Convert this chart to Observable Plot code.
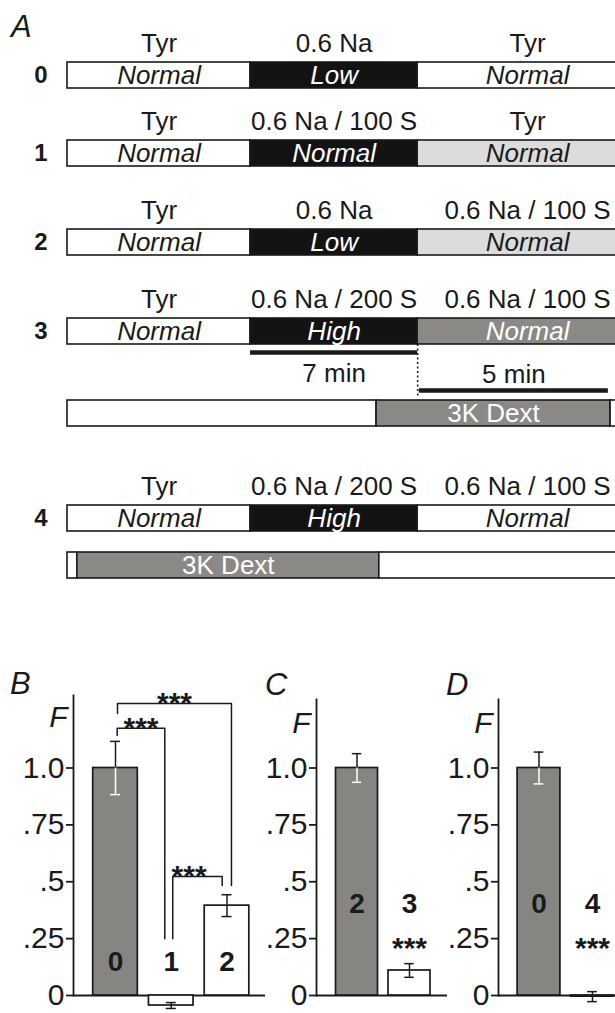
<!DOCTYPE html>
<html><head><meta charset="utf-8">
<script src="https://cdn.jsdelivr.net/npm/d3@7"></script>
<script src="https://cdn.jsdelivr.net/npm/@observablehq/plot@0.6"></script>
<style>
html,body{margin:0;padding:0;background:#fff;overflow:hidden;}
#fig{position:relative;width:615px;height:1013px;overflow:hidden;font-family:"Liberation Sans",Arial,sans-serif;color:#1a1a1a;}
.slot{position:absolute;left:0;}
.letter{position:absolute;font-style:italic;font-size:31px;line-height:1;}
</style></head><body><div id="fig"></div>
<script>
// ---------- Panel A data (schematic, x in % of protocol bar) ----------
const rowIds = ["0", "1", "2", "3", "4"];
const phaseEdges = [0, 33.4, 63.9, 104];
const solutions = [
  ["Tyr", "0.6 Na", "Tyr"],
  ["Tyr", "0.6 Na / 100 S", "Tyr"],
  ["Tyr", "0.6 Na", "0.6 Na / 100 S"],
  ["Tyr", "0.6 Na / 200 S", "0.6 Na / 100 S"],
  ["Tyr", "0.6 Na / 200 S", "0.6 Na / 100 S"]
];
const tonicity = [
  ["Normal", "Low", "Normal"],
  ["Normal", "Normal", "Normal"],
  ["Normal", "Low", "Normal"],
  ["Normal", "High", "Normal"],
  ["Normal", "High", "Normal"]
];
const phaseKinds = [
  ["base", "test", "base"],
  ["base", "test", "recovery"],
  ["base", "test", "recovery"],
  ["base", "test", "dextran"],
  ["base", "test", "base"]
];
const dextranRows = ["3", "4"];
const dextranStart = [56.4, 1.8];
const dextranEnd = [99.1, 56.9];
const dextranLabel = "3K Dext";
const scaleLabels = ["7 min", "5 min"];
const scaleStart = [33.4, 64.2];
const scaleEnd = [63.9, 98.7];

// ---------- Panels B-D data ----------
const yTicks = [0, 0.25, 0.5, 0.75, 1];
const yTickLabels = ["0", ".25", ".5", ".75", "1.0"];
const bCats = ["0", "1", "2"];
const bValues = [1.0, -0.044, 0.395];
const bErrors = [0.117, 0.013, 0.048];
const bReference = "0";
const bComparisons = [["0", "2"], ["0", "1"], ["1", "2"]];
const cCats = ["2", "3"];
const cValues = [1.0, 0.11];
const cErrors = [0.063, 0.03];
const cReference = "2";
const cStarred = ["3"];
const dCats = ["0", "4"];
const dValues = [1.0, -0.005];
const dErrors = [0.07, 0.022];
const dReference = "0";
const dStarred = ["4"];
const significance = "***";

// ---------- styles ----------
const INK = "#1a1a1a";
const fillOf = {base: "#ffffff", test: "#131313", recovery: "#dcdcdc", dextran: "#8b8986"};
const textOf = {base: INK, test: "#ffffff", recovery: INK, dextran: "#ffffff"};
const REF_GRAY = "#878582";
const FONT = "Liberation Sans, Arial, sans-serif";
const baseStyle = {background: "transparent", overflow: "visible", fontFamily: FONT, color: INK, fontSize: "26px"};

const fig = document.getElementById("fig");
function place(node, top) {
  const d = document.createElement("div");
  d.className = "slot"; d.style.top = top + "px";
  d.appendChild(node); fig.appendChild(d);
}
function letter(t, left, top) {
  const d = document.createElement("div");
  d.className = "letter"; d.textContent = t;
  d.style.left = left + "px"; d.style.top = top + "px";
  fig.appendChild(d);
}

// ---------- Panel A ----------
function trackPlot(segs, {labelled, rowLabel, innerItalic}) {
  const marginTop = labelled ? 34 : 2;
  const mid = d => (d.x1 + d.x2) / 2;
  const marks = [
    Plot.barX(segs, {x1: "x1", x2: "x2", y: () => "bar", fill: d => fillOf[d.kind], stroke: INK, strokeWidth: 1.6}),
    Plot.text(segs.filter(d => d.inner), {x: mid, y: () => "bar", text: "inner", fill: d => textOf[d.kind],
      fontSize: 26, fontStyle: innerItalic ? "italic" : "normal"})
  ];
  if (labelled) {
    marks.push(Plot.text(segs, {x: mid, y: () => "bar", text: "solution", dy: -32, fontSize: 26, fill: INK}));
  }
  if (rowLabel != null) {
    marks.push(Plot.text([rowLabel], {frameAnchor: "left", dx: -20, textAnchor: "end", fontWeight: "bold", fontSize: 24, fill: INK}));
  }
  return Plot.plot({
    width: 615, height: marginTop + 28,
    marginLeft: 67, marginRight: 0, marginTop, marginBottom: 2,
    x: {domain: [0, 100], axis: null},
    y: {domain: ["bar"], axis: null, padding: 0},
    color: {type: "identity"},
    style: baseStyle,
    marks
  });
}

const rowTops = [28, 106, 195, 284, 471];
rowIds.forEach((id, r) => {
  const segs = [0, 1, 2].map(p => ({
    x1: phaseEdges[p], x2: phaseEdges[p + 1], kind: phaseKinds[r][p],
    solution: solutions[r][p], inner: tonicity[r][p]
  }));
  place(trackPlot(segs, {labelled: true, rowLabel: id, innerItalic: true}), rowTops[r]);
});

const dextTops = {"3": 398, "4": 550};
dextranRows.forEach((id, k) => {
  const segs = [
    {x1: phaseEdges[0], x2: dextranStart[k], kind: "base", inner: null},
    {x1: dextranStart[k], x2: dextranEnd[k], kind: "dextran", inner: dextranLabel},
    {x1: dextranEnd[k], x2: phaseEdges[3], kind: "base", inner: null}
  ];
  place(trackPlot(segs, {labelled: false, rowLabel: null, innerItalic: false}), dextTops[id]);
});

// time scale bars for protocol 3
{
  const bars = scaleLabels.map((label, i) => ({label, start: scaleStart[i], end: scaleEnd[i]}));
  const labelDy = [21, -16];
  const plot = Plot.plot({
    width: 615, height: 54, marginLeft: 67, marginRight: 0, marginTop: 0, marginBottom: 0,
    x: {domain: [0, 100], axis: null},
    y: {domain: scaleLabels, axis: null, padding: 0.2},
    style: baseStyle,
    marks: [
      Plot.ruleX([phaseEdges[2]], {stroke: INK, strokeWidth: 1.5, strokeDasharray: "2,2.5"}),
      Plot.ruleY(bars, {y: "label", x1: "start", x2: "end", stroke: INK, strokeWidth: 4.5}),
      ...bars.map((b, i) => Plot.text([b], {x: d => (d.start + d.end) / 2, y: "label", text: "label", dy: labelDy[i], fontSize: 26, fill: INK}))
    ]
  });
  place(plot, 344);
}

// ---------- Panels B-D ----------
function barPanel({cats, values, errors, reference, starred, comparisons, layout}) {
  const rows = cats.map((cat, i) => ({cat, i, value: values[i], err: errors[i], ref: cat === reference}));
  const marks = [
    Plot.frame({anchor: "left", stroke: INK, strokeWidth: 1.8}),
    Plot.ruleY([0], {stroke: INK, strokeWidth: 1.8}),
    Plot.axisY(yTicks, {tickFormat: d => yTickLabels[yTicks.indexOf(d)], tickSize: 7, tickPadding: 2,
      fontSize: 30, strokeWidth: 1.8, label: null, fill: INK, stroke: INK}),
    Plot.rectY(rows, {x1: d => d.i - 0.4, x2: d => d.i + 0.4, y1: () => 0, y2: "value",
      fill: d => d.ref ? REF_GRAY : "#ffffff", stroke: INK, strokeWidth: 1.7}),
    // error bars: upper half black, lower half white inside grey bars
    Plot.ruleX(rows, {x: "i", y1: "value", y2: d => d.value + d.err, stroke: INK, strokeWidth: 1.5}),
    Plot.ruleX(rows, {x: "i", y1: d => d.value - d.err, y2: "value", stroke: d => d.ref ? "#ffffff" : INK, strokeWidth: 1.5}),
    Plot.ruleY(rows, {y: d => d.value + d.err, x1: d => d.i - 0.09, x2: d => d.i + 0.09, stroke: INK, strokeWidth: 1.5}),
    Plot.ruleY(rows, {y: d => d.value - d.err, x1: d => d.i - 0.09, x2: d => d.i + 0.09, stroke: d => d.ref ? "#ffffff" : INK, strokeWidth: 1.5}),
    Plot.text(rows, {x: "i", y: () => layout.numberY, text: "cat", fontWeight: "bold", fontSize: 28, fill: INK}),
    Plot.text(["F"], {frameAnchor: "top-left", dx: -6, dy: layout.fDy, textAnchor: "end", fontStyle: "italic", fontSize: 30, fill: INK})
  ];
  if (starred) {
    marks.push(Plot.text(rows.filter(d => starred.includes(d.cat)), {x: "i", y: () => 0.208, text: () => significance,
      fontWeight: "bold", fontSize: 30, fill: INK}));
  }
  if (comparisons) {
    const pts = [], stars = [];
    comparisons.forEach(([a, b], k) => {
      const g = layout.brackets[k];
      const xa = cats.indexOf(a) + g.fromOff, xb = cats.indexOf(b) + g.toOff;
      pts.push({id: k, x: xa, y: g.fromEnd}, {id: k, x: xa, y: g.top}, {id: k, x: xb, y: g.top}, {id: k, x: xb, y: g.toEnd});
      stars.push({x: xa + (xb - xa) * g.starAt, y: g.top});
    });
    marks.push(Plot.line(pts, {x: "x", y: "y", z: "id", stroke: INK, strokeWidth: 1.5}));
    marks.push(Plot.text(stars, {x: "x", y: "y", text: () => significance, fontWeight: "bold", fontSize: 30, fill: INK}));
  }
  return Plot.plot({
    width: 615, height: 353,
    marginLeft: layout.axisX, marginRight: 615 - layout.rightEdge, marginTop: layout.axisTop, marginBottom: 18,
    x: {domain: [0, cats.length - 1], range: layout.xRange, axis: null},
    y: {domain: [0, 1], range: [335, 107.5]},
    color: {type: "identity"},
    style: baseStyle,
    marks
  });
}

place(barPanel({cats: bCats, values: bValues, errors: bErrors, reference: bReference, comparisons: bComparisons,
  layout: {axisX: 73, rightEdge: 265, axisTop: 35, xRange: [115, 226.5], numberY: 0.145, fDy: 10,
    brackets: [
      {fromOff: 0.036, toOff: 0.08, fromEnd: 1.24, top: 1.284, toEnd: 0.484, starAt: 0.5},
      {fromOff: 0.03, toOff: -0.116, fromEnd: 1.143, top: 1.175, toEnd: 0.249, starAt: 0.5},
      {fromOff: 0.027, toOff: -0.086, fromEnd: 0.249, top: 0.523, toEnd: 0.484, starAt: 0.33}
    ]}}), 660);
place(barPanel({cats: cCats, values: cValues, errors: cErrors, reference: cReference, starred: cStarred,
  layout: {axisX: 316, rightEdge: 447, axisTop: 39, xRange: [356.5, 409], numberY: 0.404, fDy: 12}}), 660);
place(barPanel({cats: dCats, values: dValues, errors: dErrors, reference: dReference, starred: dStarred,
  layout: {axisX: 498, rightEdge: 615, axisTop: 39, xRange: [538.5, 592], numberY: 0.404, fDy: 12}}), 660);

letter("A", 11, 11);
letter("B", 10, 668);
letter("C", 265, 669);
letter("D", 446, 669);
</script></body></html>
